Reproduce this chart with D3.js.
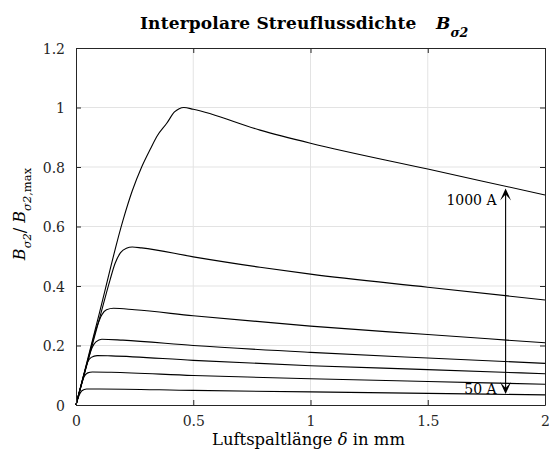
<!DOCTYPE html>
<html><head><meta charset="utf-8">
<script src="https://cdn.jsdelivr.net/npm/d3@7"></script>
<style>body{margin:0;background:#fff}</style>
</head><body><svg id="c" width="549" height="459"></svg>
<script>
// Data
const xTicks = [0, 0.5, 1, 1.5, 2];
const yTicks = [0, 0.2, 0.4, 0.6, 0.8, 1, 1.2];
const currents = [50, 100, 150, 200, 300, 500, 1000];
const x50   = [0, 0.012, 0.025, 0.045, 0.1, 0.5, 1, 1.5, 2];
const y50   = [0, 0.03, 0.048, 0.054, 0.054, 0.049, 0.044, 0.039, 0.034];
const x100  = [0, 0.02, 0.035, 0.05, 0.07, 0.15, 0.5, 1, 1.5, 2];
const y100  = [0, 0.06, 0.096, 0.108, 0.111, 0.11, 0.099, 0.088, 0.079, 0.070];
const x150  = [0, 0.03, 0.05, 0.065, 0.09, 0.15, 0.5, 1, 1.5, 2];
const y150  = [0, 0.09, 0.145, 0.16, 0.166, 0.165, 0.15, 0.132, 0.119, 0.105];
const x200  = [0, 0.04, 0.07, 0.085, 0.11, 0.2, 0.5, 1, 1.5, 2];
const y200  = [0, 0.12, 0.195, 0.212, 0.221, 0.218, 0.2, 0.177, 0.158, 0.140];
const x300  = [0, 0.05, 0.09, 0.11, 0.13, 0.16, 0.25, 0.5, 1, 1.5, 2];
const y300  = [0, 0.15, 0.265, 0.303, 0.32, 0.325, 0.32, 0.30, 0.265, 0.237, 0.209];
const x500  = [0, 0.1, 0.145, 0.166, 0.19, 0.215, 0.24, 0.28, 0.5, 0.785, 1, 1.5, 2];
const y500  = [0, 0.29, 0.42, 0.475, 0.512, 0.527, 0.531, 0.528, 0.498, 0.463, 0.44, 0.396, 0.353];
const x1000 = [0, 0.1, 0.2, 0.24, 0.28, 0.32, 0.344, 0.387, 0.42, 0.44, 0.46, 0.5, 0.785, 1, 1.5, 2];
const y1000 = [0, 0.31, 0.62, 0.72, 0.80, 0.865, 0.902, 0.947, 0.985, 0.996, 1.0, 0.994, 0.924, 0.88, 0.793, 0.706];
const arrowX = 1.832, arrowTop = 0.728, arrowBottom = 0.037;
const labelTop = "1000 A", labelBottom = "50 A";

const seriesX = [x50, x100, x150, x200, x300, x500, x1000];
const seriesY = [y50, y100, y150, y200, y300, y500, y1000];

const svg = d3.select("#c");
const L = 76, R = 545, T = 48, B = 405;
const x = d3.scaleLinear().domain([0, 2]).range([L, R]);
const y = d3.scaleLinear().domain([0, 1.2]).range([B, T]);
const font = "'DejaVu Serif', serif";
const axisCol = "#262626";

function fit(sel, target) {
  const fs = parseFloat(sel.attr("font-size"));
  const w = sel.node().getComputedTextLength();
  sel.attr("font-size", (fs * target / w).toFixed(2));
}
function fitSpacing(sel, target) {
  const w = sel.node().getComputedTextLength();
  const n = sel.text().length;
  sel.attr("letter-spacing", ((target - w) / n).toFixed(3));
}

// grid
const g = svg.append("g");
g.selectAll("line.gx").data(xTicks.slice(1, -1)).join("line")
  .attr("x1", d => x(d)).attr("x2", d => x(d)).attr("y1", T).attr("y2", B)
  .attr("stroke", "#e3e3e3").attr("stroke-width", 1);
g.selectAll("line.gy").data(yTicks.slice(1, -1)).join("line")
  .attr("y1", d => y(d)).attr("y2", d => y(d)).attr("x1", L).attr("x2", R)
  .attr("stroke", "#e3e3e3").attr("stroke-width", 1);

// curves
const line = d3.line().x(d => x(d[0])).y(d => y(d[1])).curve(d3.curveMonotoneX);
seriesX.forEach((xs, i) => {
  const pts = xs.map((v, j) => [v, seriesY[i][j]]);
  svg.append("path").attr("d", line(pts)).attr("fill", "none")
    .attr("stroke", "#000").attr("stroke-width", 1.1);
});

// axes
const tickFmt = d => String(d);
const ax = [
  svg.append("g").attr("transform", `translate(0,${B})`).call(d3.axisBottom(x).tickValues(xTicks).tickFormat(tickFmt).tickSizeInner(-5).tickSizeOuter(0).tickPadding(11)),
  svg.append("g").attr("transform", `translate(0,${T})`).call(d3.axisTop(x).tickValues(xTicks).tickFormat("").tickSizeInner(-5).tickSizeOuter(0)),
  svg.append("g").attr("transform", `translate(${L},0)`).call(d3.axisLeft(y).tickValues(yTicks).tickFormat(tickFmt).tickSizeInner(-5).tickSizeOuter(0).tickPadding(11)),
  svg.append("g").attr("transform", `translate(${R},0)`).call(d3.axisRight(y).tickValues(yTicks).tickFormat("").tickSizeInner(-5).tickSizeOuter(0))
];
ax.forEach(a => {
  a.selectAll("path,line").attr("stroke", axisCol);
  a.selectAll("text").attr("font-family", font).attr("font-size", 14).attr("fill", axisCol);
});
ax[2].selectAll("text").attr("dy", "0.36em");

// arrow
const ay1 = y(arrowTop), ay2 = y(arrowBottom), axp = x(arrowX);
svg.append("line").attr("x1", axp).attr("x2", axp).attr("y1", ay1 + 4).attr("y2", ay2 - 4)
  .attr("stroke", "#000").attr("stroke-width", 1.1);
const head = (tx, ty, dir) => {
  const l = 12, w = 5.5, n = 6;
  return `M${tx},${ty} L${tx + w},${ty + dir * l} L${tx},${ty + dir * n} L${tx - w},${ty + dir * l} Z`;
};
svg.append("path").attr("d", head(axp, ay1, 1)).attr("fill", "#000");
svg.append("path").attr("d", head(axp, ay2, -1)).attr("fill", "#000");
svg.append("text").attr("x", axp - 9).attr("y", ay1 + 17).attr("text-anchor", "end")
  .attr("font-family", font).attr("font-size", 14).text(labelTop);
svg.append("text").attr("x", axp - 9).attr("y", ay2 + 0).attr("text-anchor", "end")
  .attr("font-family", font).attr("font-size", 14).text(labelBottom);

// title
const t1 = svg.append("text").attr("x", 140).attr("y", 29)
  .attr("font-family", font).attr("font-size", 17).attr("font-weight", "bold")
  .text("Interpolare Streuflussdichte");
fitSpacing(t1, 275);
const t2 = svg.append("text").attr("x", 436).attr("y", 29)
  .attr("font-family", font).attr("font-size", 17).attr("font-weight", "bold")
  .attr("font-style", "italic");
t2.append("tspan").text("B");
t2.append("tspan").attr("font-size", 12.5).attr("dy", 8).text("σ2");

// x label
const xl = svg.append("text").attr("x", 212).attr("y", 445)
  .attr("font-family", font).attr("font-size", 16);
xl.append("tspan").text("Luftspaltlänge ");
xl.append("tspan").attr("font-style", "italic").text("δ");
xl.append("tspan").text(" in mm");
fit(xl, 193);

// y label
const yl = svg.append("text").attr("transform", `translate(25,214) rotate(-90)`)
  .attr("text-anchor", "middle").attr("font-family", font).attr("font-size", 16);
yl.append("tspan").attr("font-style", "italic").text("B");
yl.append("tspan").attr("font-style", "italic").attr("font-size", 11.5).attr("dy", 6).text("σ2");
yl.append("tspan").attr("dy", -6).text("/ ");
yl.append("tspan").attr("font-style", "italic").text("B");
yl.append("tspan").attr("font-size", 11.5).attr("dy", 6).attr("font-style", "italic").text("σ2");
yl.append("tspan").attr("font-size", 11.5).text(",max");
</script></body></html>
